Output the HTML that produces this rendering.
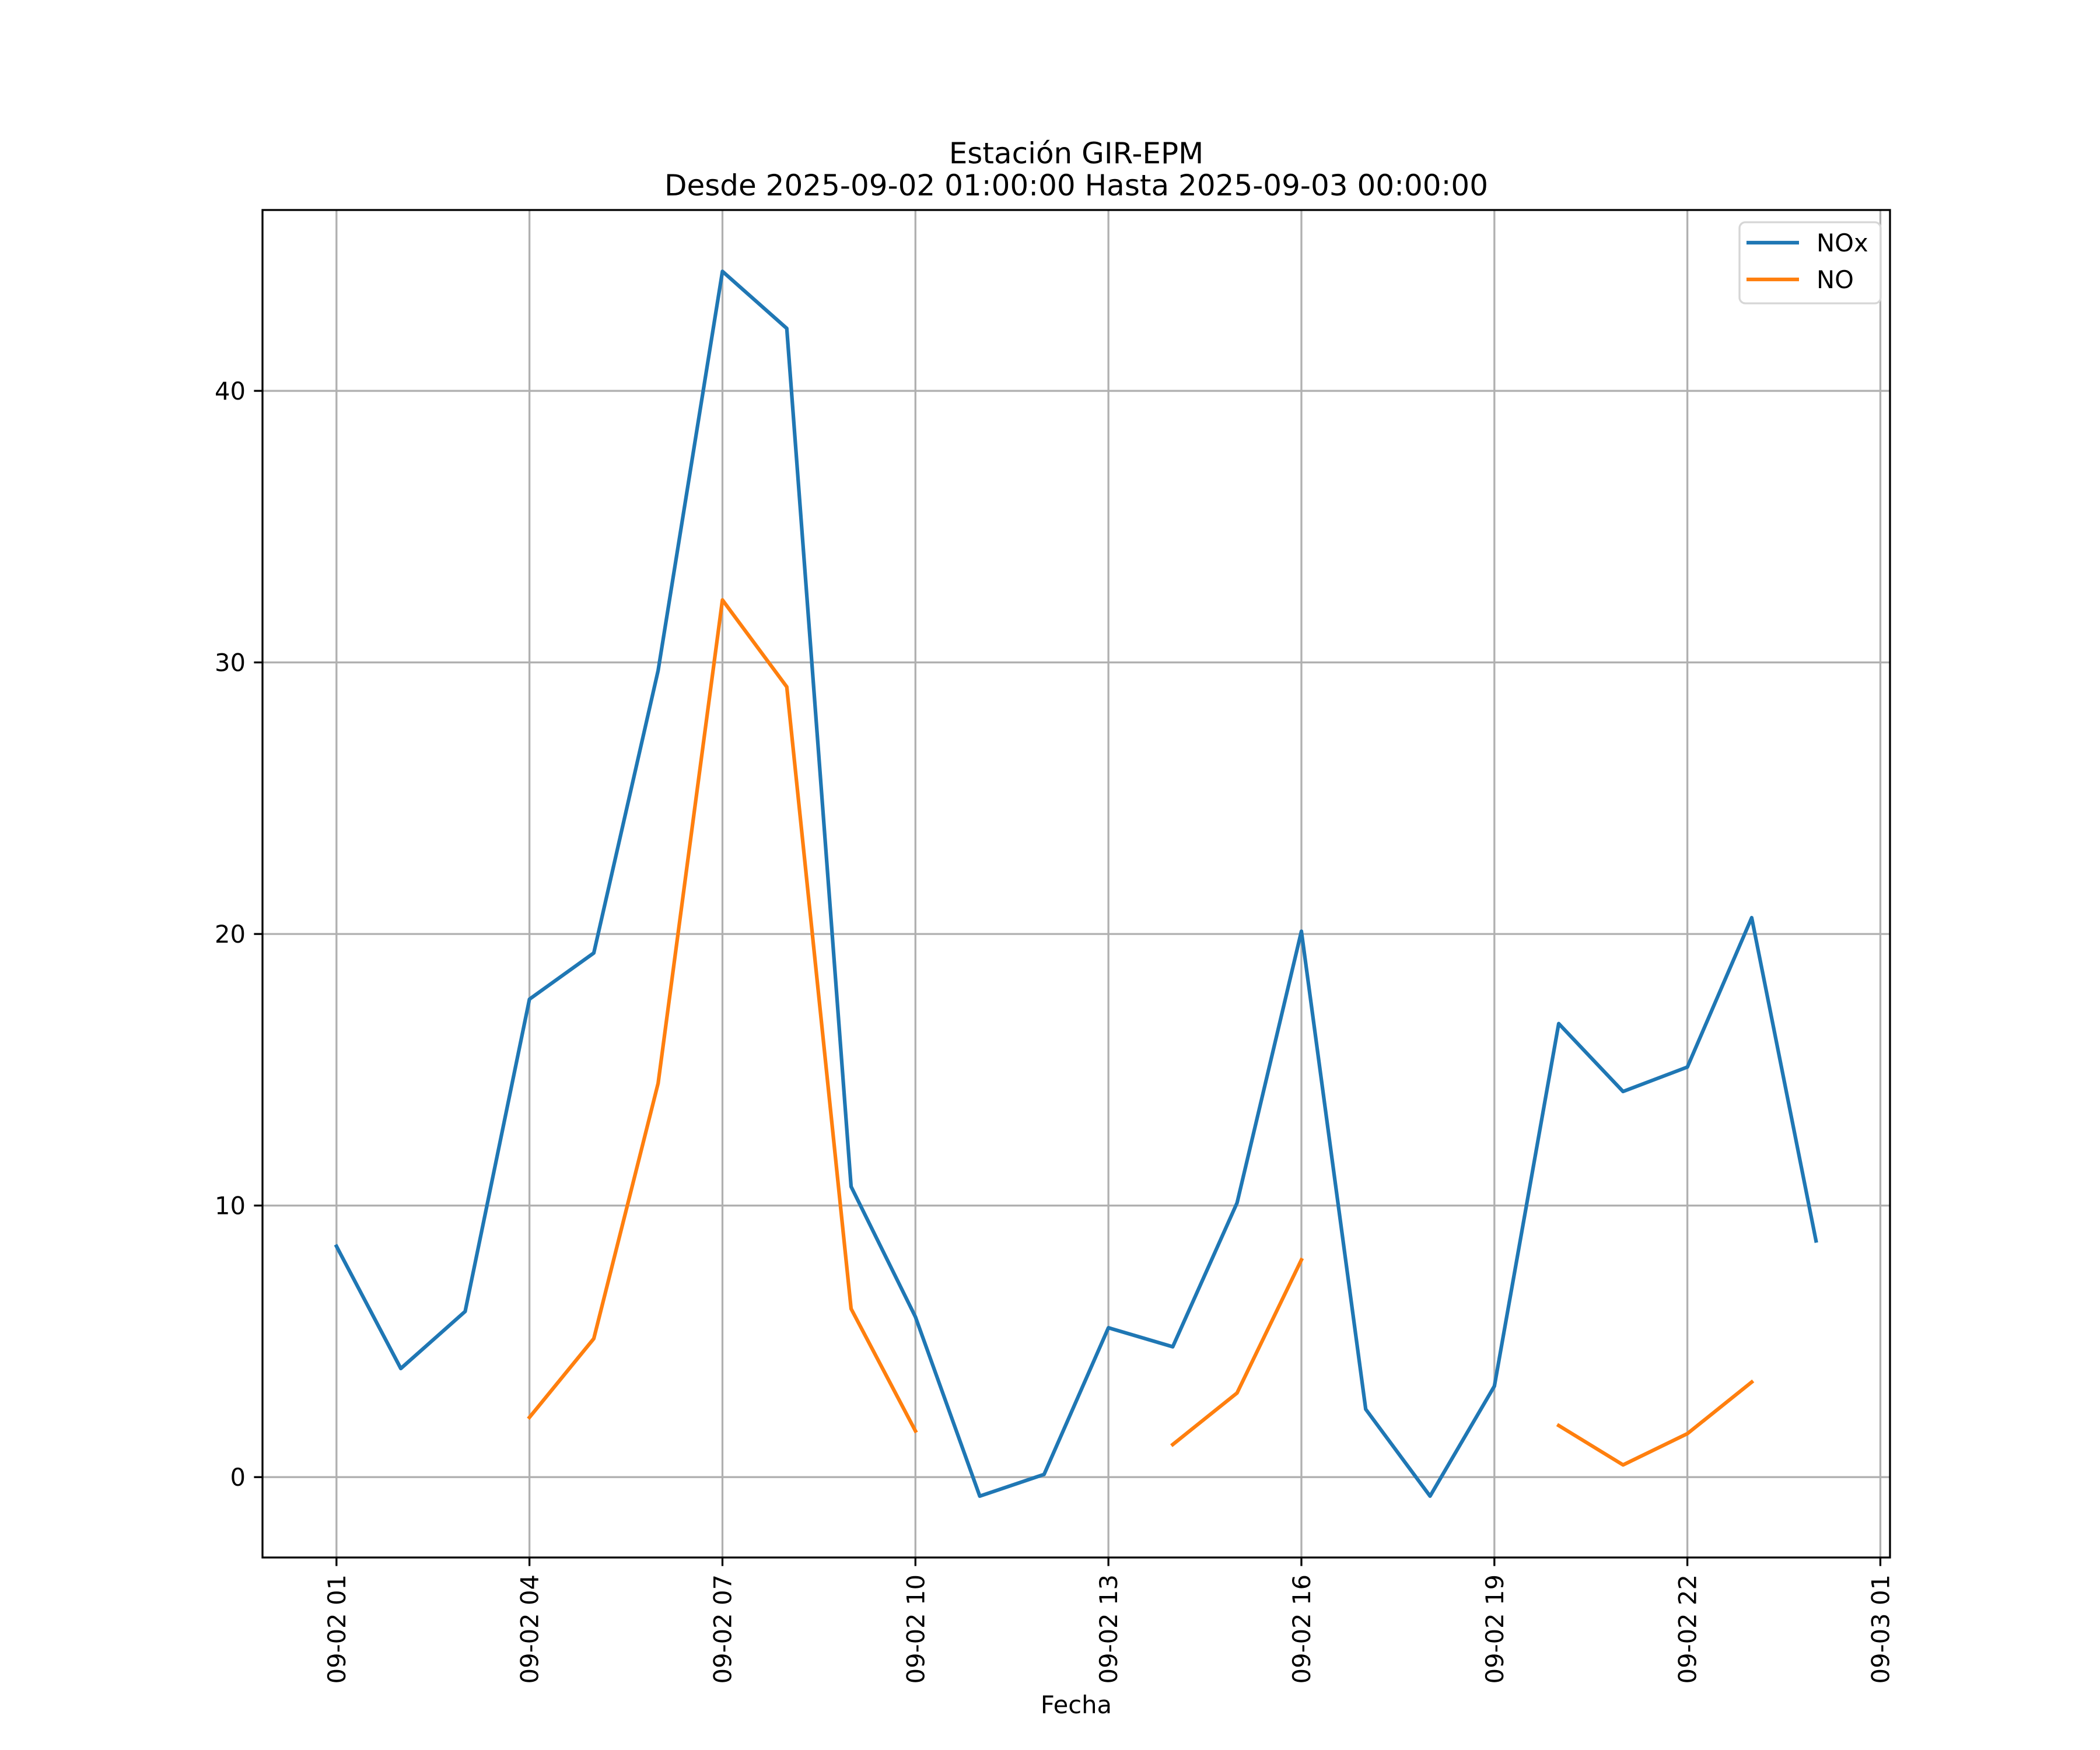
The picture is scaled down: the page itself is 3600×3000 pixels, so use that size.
<!DOCTYPE html>
<html><head><meta charset="utf-8"><style>
html,body{margin:0;padding:0;background:#fff}
svg{display:block;font-family:"DejaVu Sans","Liberation Sans",sans-serif}
</style></head><body>
<svg id="chart" width="3600" height="3000" viewBox="0 0 3600 3000" xmlns="http://www.w3.org/2000/svg">
<rect width="3600" height="3000" fill="#fff"/>
<text x="1845" y="280" font-size="50" text-anchor="middle">Estación GIR-EPM</text>
<text x="1845" y="335" font-size="50" text-anchor="middle">Desde 2025-09-02 01:00:00 Hasta 2025-09-03 00:00:00</text>
<g id="grid"></g>
<g id="series"></g>
<rect x="450" y="360" width="2790" height="2310" fill="none" stroke="#000" stroke-width="3.3"/>
<g id="ticks"></g>
<text x="1845" y="2937" font-size="41.7" text-anchor="middle">Fecha</text>
<g>
<rect x="2982" y="381" width="242" height="139" rx="10" fill="#fff" fill-opacity="0.8" stroke="#d6d6d6" stroke-width="3.3"/>
<line x1="2994" y1="416" x2="3084" y2="416" stroke="#1f77b4" stroke-width="6.25"/>
<text x="3114" y="431" font-size="41.7">NOx</text>
<line x1="2994" y1="479" x2="3084" y2="479" stroke="#ff7f0e" stroke-width="6.25"/>
<text x="3114" y="494" font-size="41.7">NO</text>
</g>
</svg>
<script>
const hours = [1,2,3,4,5,6,7,8,9,10,11,12,13,14,15,16,17,18,19,20,21,22,23,24];
const noxValues = [8.5,4.0,6.1,17.6,19.3,29.7,44.4,42.3,10.7,5.9,-0.7,0.1,5.5,4.8,10.1,20.1,2.5,-0.7,3.35,16.7,14.2,15.1,20.6,8.7];
const noValues = [null,null,null,2.2,5.1,14.5,32.3,29.1,6.2,1.7,null,null,null,1.2,3.1,8.0,null,null,null,1.9,0.45,1.6,3.5,null];
const yTicks = [0,10,20,30,40];
const xTickHours = [1,4,7,10,13,16,19,22,25];
const xTickLabels = ["09-02 01","09-02 04","09-02 07","09-02 10","09-02 13","09-02 16","09-02 19","09-02 22","09-03 01"];

const L=450,R=3240,T=360,B=2670;
const xMin=1-1.15, xMax=24+1.15;
const yMin=-2.96, yMax=46.66;
const xs=h=>L+(h-xMin)/(xMax-xMin)*(R-L);
const ys=v=>B-(v-yMin)/(yMax-yMin)*(B-T);
const NS="http://www.w3.org/2000/svg";
function mk(tag,attrs,parent){const e=document.createElementNS(NS,tag);for(const k in attrs)e.setAttribute(k,attrs[k]);parent.appendChild(e);return e;}
const grid=document.getElementById('grid'),ticks=document.getElementById('ticks'),series=document.getElementById('series');

yTicks.forEach(v=>{
  const y=ys(v);
  const g=mk('line',{x1:L,x2:R,y1:y,y2:y,stroke:'#b0b0b0','stroke-width':3.3},grid);
  
  
  const t=mk('line',{x1:L-14.6,x2:L,y1:y,y2:y,stroke:'#000','stroke-width':3.3},ticks);
  
  
  const lb=mk('text',{x:L-29,y:y+15,'font-size':41.7,'text-anchor':'end'},ticks);
  lb.textContent=String(v);
  
  
});
xTickHours.forEach((h,i)=>{
  const x=xs(h);
  const g=mk('line',{x1:x,x2:x,y1:T,y2:B,stroke:'#b0b0b0','stroke-width':3.3},grid);
  
  
  const t=mk('line',{x1:x,x2:x,y1:B,y2:B+14.6,stroke:'#000','stroke-width':3.3},ticks);
  
  
  const lb=mk('text',{x:0,y:0,'font-size':41.7,'text-anchor':'end',transform:`translate(${x+15},${B+29}) rotate(-90)`},ticks);
  lb.textContent=xTickLabels[i];
  
  
});
function drawSeries(vals,color,name){
  let segs=[],cur=[];
  vals.forEach((v,i)=>{if(v===null){if(cur.length)segs.push(cur);cur=[];}else cur.push([xs(hours[i]),ys(v)]);});
  if(cur.length)segs.push(cur);
  segs.forEach(s=>{
    const p=mk('polyline',{points:s.map(q=>q.join(',')).join(' '),fill:'none',stroke:color,'stroke-width':6.25,'stroke-linejoin':'round','stroke-linecap':'square'},series);
    
    
  });
}
drawSeries(noxValues,'#1f77b4','nox-line');
drawSeries(noValues,'#ff7f0e','no-line');
</script>
</body></html>
